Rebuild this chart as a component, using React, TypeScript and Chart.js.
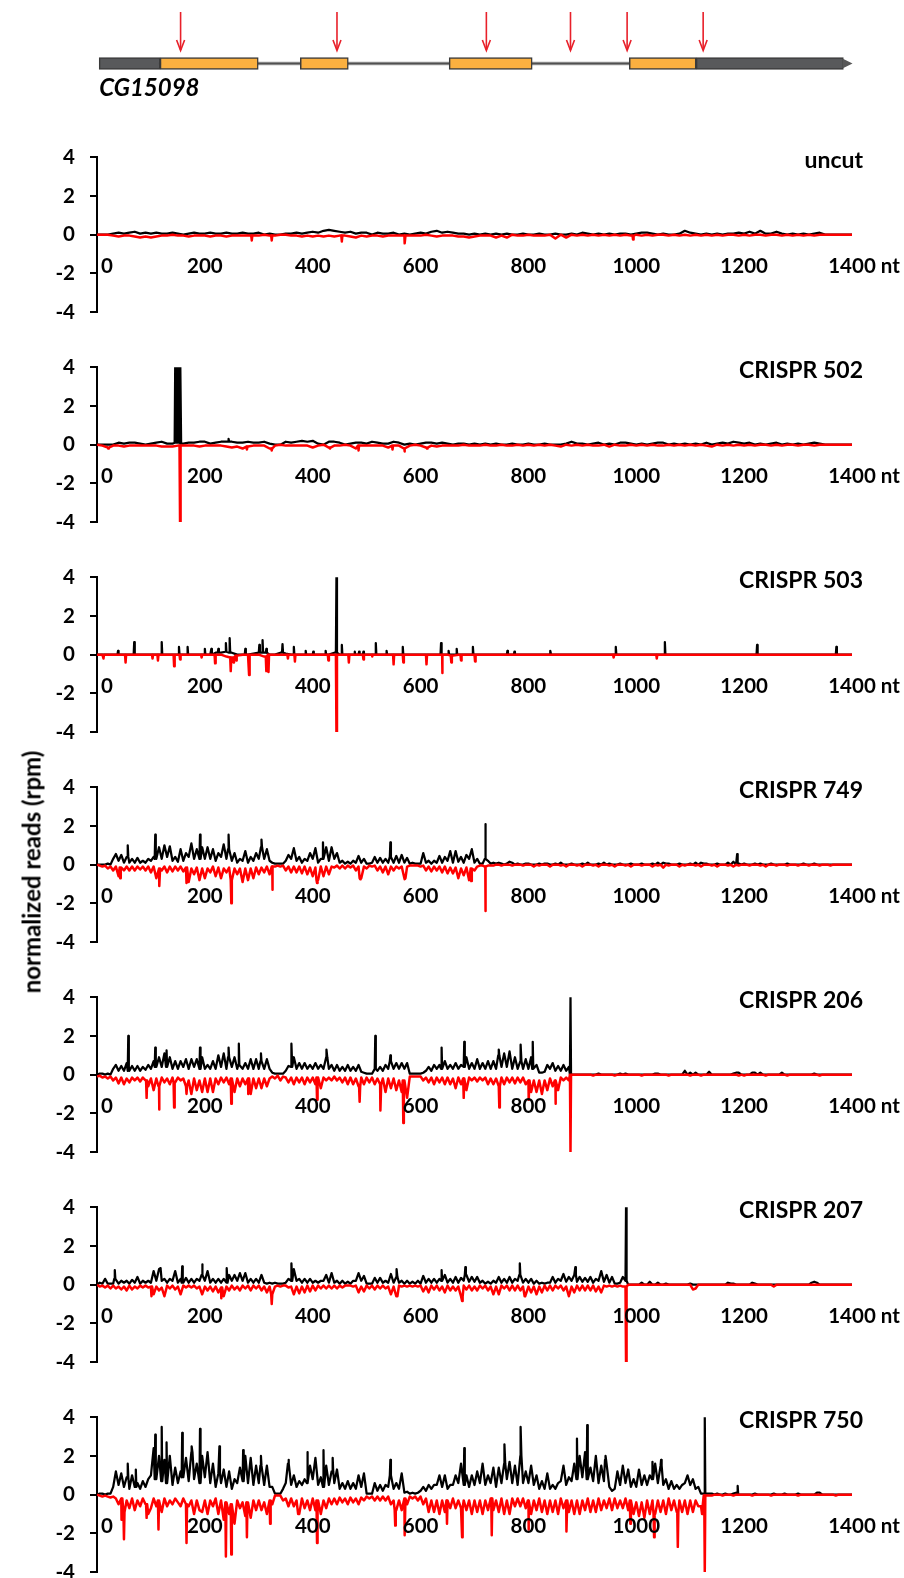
import React, { useEffect, useRef } from "react";
import { Chart, registerables } from "chart.js";

Chart.register(...registerables);

const FONT = "Lato, 'Open Sans', 'Liberation Sans', sans-serif";
const TICK_PX = 20.5;
const TITLE_PX = 23;

const X_TICKS = [0, 200, 400, 600, 800, 1000, 1200, 1400];
const X_UNIT = "nt";
const Y_MIN = -4;
const Y_MAX = 4;
const Y_STEP = 2;

// gene model CG15098 (nt)
const GENE_NAME = "CG15098";
const GENE_UTR = [
  [4, 117],
  [1111, 1384],
];
const GENE_CDS = [
  [117, 299],
  [377, 466],
  [653, 807],
  [987, 1111],
];
const GENE_SPAN = [4, 1401];
const CUT_SITES = [155, 445, 722, 878, 983, 1124];

const TITLES = ["uncut", "CRISPR 502", "CRISPR 503", "CRISPR 749", "CRISPR 206", "CRISPR 207", "CRISPR 750"];

// sampling steps (nt) of the profile arrays
const STEP_SPARSE = 10;
const STEP_DENSE = 5;

// ---------- uncut (step 10) ----------
const UNCUT_PLUS = [
  0, 0, 0, 0.05, 0.1, 0.05, 0.1, 0.15, 0.05, 0.1,
  0.05, 0.1, 0.05, 0.05, 0.1, 0.05, 0, 0.05, 0.1, 0.05,
  0.05, 0.1, 0.05, 0.05, 0.1, 0.05, 0.05, 0.1, 0.05, 0.05,
  0.1, 0, 0.05, 0, 0, 0.05, 0.05, 0.1, 0.05, 0.1,
  0.15, 0.1, 0.2, 0.25, 0.2, 0.15, 0.1, 0.15, 0.05, 0.1,
  0.1, 0, 0.1, 0.05, 0.05, 0.1, 0, 0.05, 0, 0.05,
  0.1, 0.05, 0.15, 0.2, 0.1, 0.15, 0.1, 0.05, 0.05, 0,
  0.05, 0, 0.05, 0, 0.05, 0, 0.05, 0, 0, 0.05,
  0, 0, 0.05, 0, 0, 0.05, 0, 0, 0.05, 0,
  0.1, 0.05, 0, 0.05, 0, 0.05, 0, 0.05, 0.05, 0,
  0.05, 0.1, 0.1, 0.05, 0, 0.05, 0, 0, 0.05, 0.2,
  0.1, 0.05, 0, 0.05, 0, 0.05, 0, 0.05, 0.05, 0.1,
  0.05, 0.15, 0.05, 0.2, 0.05, 0.05, 0.15, 0.05, 0, 0.05,
  0, 0.05, 0, 0.05, 0.1, 0, 0, 0, 0, 0,
  0,
];
const UNCUT_PLUS_SPIKES: number[][] = [];
const UNCUT_MINUS = [
  0, 0, 0, -0.05, -0.1, -0.05, -0.05, -0.1, -0.15, -0.1,
  -0.15, -0.1, -0.05, -0.05, 0, -0.05, -0.05, -0.1, -0.05, -0.05,
  -0.05, -0.1, -0.05, -0.05, -0.1, -0.05, -0.05, -0.05, -0.05, -0.05,
  -0.05, 0, -0.05, -0.05, 0, 0, -0.05, -0.05, -0.1, -0.05,
  -0.1, -0.05, -0.1, -0.05, -0.1, -0.05, -0.05, -0.1, -0.15, -0.05,
  -0.1, -0.05, -0.05, -0.1, -0.05, -0.05, -0.05, -0.05, -0.05, -0.05,
  -0.05, 0, -0.05, -0.1, -0.05, -0.05, -0.05, -0.1, -0.1, -0.15,
  -0.1, -0.05, -0.05, -0.05, -0.15, -0.05, -0.15, 0, -0.05, -0.05,
  0, -0.05, -0.05, -0.05, 0, -0.2, 0, -0.15, 0, -0.05,
  0, -0.05, 0, -0.05, 0, -0.05, 0, -0.05, 0, -0.05,
  0, -0.05, 0, -0.05, 0, 0, -0.05, 0, -0.05, 0,
  -0.05, 0, -0.05, 0, -0.05, 0, -0.05, 0, 0, -0.05,
  0, -0.05, 0, 0, -0.05, 0, 0, -0.05, 0, -0.05,
  0, -0.05, 0, -0.05, 0, 0, 0, 0, 0, 0,
  0,
];
const UNCUT_MINUS_SPIKES = [[287, -0.3], [324, -0.3], [454, -0.35], [571, -0.45], [994, -0.25]];

// ---------- CRISPR 502 (step 10) ----------
const C502_PLUS = [
  0, 0, 0, 0, 0.1, 0.05, 0.1, 0.1, 0.05, 0,
  0.05, 0.1, 0.15, 0.05, 0.05, 0.1, 0.05, 0.1, 0.1, 0.15,
  0.15, 0.05, 0.1, 0.15, 0.15, 0.15, 0.1, 0.1, 0.15, 0.1,
  0.1, 0.15, 0.05, 0, 0, 0.15, 0.1, 0.15, 0.2, 0.15,
  0.2, 0.05, 0, 0.15, 0.15, 0.1, 0, 0.05, 0.1, 0.1,
  0.05, 0.15, 0.1, 0.05, 0.05, 0.15, 0.1, 0, 0.05, 0,
  0.05, 0.1, 0.1, 0.05, 0.1, 0.05, 0, 0.05, 0.05, 0,
  0.05, 0, 0.05, 0, 0.05, 0, 0, 0.05, 0, 0,
  0.05, 0, 0, 0.05, 0, 0, 0, 0.05, 0.15, 0.05,
  0.05, 0, 0.05, 0.1, 0, 0.05, 0, 0.1, 0.1, 0.05,
  0, 0.05, 0, 0.05, 0.1, 0.1, 0, 0.05, 0, 0.05,
  0, 0.05, 0, 0.1, 0, 0.05, 0.1, 0.05, 0.15, 0.1,
  0.05, 0.1, 0, 0.05, 0, 0.05, 0.1, 0, 0.05, 0,
  0.05, 0, 0.05, 0.1, 0.05, 0, 0, 0, 0, 0,
  0,
];
const C502_PLUS_SPIKES = [[145, 4], [147, 4], [149, 4], [151, 4], [153, 4], [155, 4], [244, 0.3]];
const C502_MINUS = [
  0, -0.05, -0.15, -0.05, -0.05, -0.1, -0.05, -0.05, -0.05, -0.05,
  -0.05, -0.05, -0.1, -0.1, -0.1, -0.05, -0.05, -0.05, -0.05, -0.1,
  -0.05, -0.05, -0.05, -0.05, -0.1, -0.15, -0.1, -0.2, -0.1, -0.05,
  -0.05, -0.05, -0.2, -0.05, 0, -0.05, -0.05, -0.05, -0.05, -0.05,
  -0.15, -0.05, 0, -0.15, -0.05, -0.05, 0, -0.05, -0.2, -0.05,
  -0.05, -0.05, -0.05, -0.05, -0.15, -0.05, -0.05, -0.2, -0.05, 0,
  -0.05, -0.15, -0.05, -0.1, -0.05, -0.05, -0.05, -0.05, 0, -0.05,
  -0.05, -0.05, 0, -0.05, -0.05, 0, -0.05, -0.05, 0, -0.05,
  0, -0.05, 0, -0.05, 0, -0.05, -0.1, 0, -0.05, 0,
  -0.05, 0, -0.05, -0.05, 0, -0.1, 0, -0.05, -0.05, 0,
  -0.05, 0, -0.05, 0, -0.05, -0.05, 0, -0.05, 0, -0.05,
  0, -0.05, 0, -0.05, -0.1, 0, -0.05, 0, -0.05, 0,
  -0.05, 0, -0.05, 0, 0, -0.05, 0, -0.05, 0, 0,
  -0.05, 0, 0, -0.05, 0, 0, 0, 0, 0, 0,
  0,
];
const C502_MINUS_SPIKES = [[21, -0.2], [154, -4], [278, -0.25], [324, -0.3], [432, -0.2], [485, -0.3], [548, -0.25], [570, -0.35], [612, -0.2]];

// ---------- CRISPR 503 (step 10) ----------
const C503_PLUS = [
  0, 0, 0, 0, 0, 0, 0, 0, 0, 0,
  0, 0, 0, 0, 0, 0, 0, 0, 0, 0,
  0, 0, 0.1, 0.1, 0.15, 0.1, 0, 0, 0, 0.05,
  0.1, 0.1, 0, 0, 0.1, 0.05, 0, 0, 0, 0,
  0, 0, 0, 0, 0.1, 0, 0, 0, 0, 0,
  0, 0, 0, 0, 0, 0, 0, 0, 0, 0,
  0, 0, 0, 0, 0, 0, 0, 0, 0, 0,
  0, 0, 0, 0, 0, 0, 0, 0, 0, 0,
  0, 0, 0, 0, 0, 0, 0, 0, 0, 0,
  0, 0, 0, 0, 0, 0, 0, 0, 0, 0,
  0, 0, 0, 0, 0, 0, 0, 0, 0, 0,
  0, 0, 0, 0, 0, 0, 0, 0, 0, 0,
  0, 0, 0, 0, 0, 0, 0, 0, 0, 0,
  0, 0, 0, 0, 0, 0, 0, 0, 0, 0,
  0,
];
const C503_PLUS_SPIKES = [
  [39, 0.2], [69, 0.65], [120, 0.65], [152, 0.4], [168, 0.4], [200, 0.3], [212, 0.3], [225, 0.3],
  [239, 0.6], [246, 0.85], [275, 0.3], [301, 0.5], [307, 0.75], [314, 0.3], [344, 0.55], [365, 0.4],
  [387, 0.2], [401, 0.15], [424, 0.2], [444, 4], [454, 0.5], [478, 0.15], [486, 0.15], [494, 0.15],
  [517, 0.6], [537, 0.2], [567, 0.4], [638, 0.6], [652, 0.2], [667, 0.3], [697, 0.4], [761, 0.2],
  [774, 0.15], [841, 0.2], [962, 0.4], [1053, 0.65], [1224, 0.5], [1371, 0.4],
];
const C503_MINUS = [
  0, 0, 0, 0, 0, 0, 0, 0, 0, 0,
  0, 0, 0, 0, 0, 0, 0, 0, 0, 0,
  0, 0, 0, 0, -0.1, -0.15, -0.05, 0, 0, 0,
  0, -0.1, 0, 0, 0, 0, 0, 0, 0, 0,
  0, 0, 0, 0, 0, 0, 0, 0, 0, 0,
  0, 0, 0, 0, 0, 0, 0, 0, 0, 0,
  0, 0, 0, 0, 0, 0, -0.05, 0, 0, 0,
  0, 0, 0, 0, 0, 0, 0, 0, 0, 0,
  0, 0, 0, 0, 0, 0, 0, 0, 0, 0,
  0, 0, 0, 0, 0, 0, 0, 0, 0, 0,
  0, 0, 0, 0, 0, 0, 0, 0, 0, 0,
  0, 0, 0, 0, 0, 0, 0, 0, 0, 0,
  0, 0, 0, 0, 0, 0, 0, 0, 0, 0,
  0, 0, 0, 0, 0, 0, 0, 0, 0, 0,
  0,
];
const C503_MINUS_SPIKES = [
  [12, -0.2], [53, -0.4], [103, -0.2], [113, -0.3], [143, -0.6], [154, -0.25], [194, -0.15], [219, -0.45],
  [248, -0.85], [253, -0.4], [258, -0.3], [282, -1.05], [314, -0.85], [318, -0.9], [354, -0.2], [367, -0.35],
  [429, -0.3], [444, -4], [467, -0.4], [494, -0.25], [510, -0.1], [550, -0.5], [568, -0.4], [611, -0.5],
  [640, -0.95], [657, -0.4], [675, -0.3], [701, -0.35], [958, -0.15], [1038, -0.2],
];

// ---------- CRISPR 749 (step 5) ----------
const C749_PLUS = [
  0, 0, 0, 0, 0.05, 0, 0.3, 0.55, 0.2, 0.5, 0.1, 0.4, 0.1, 0.3, 0.1, 0.35, 0.1, 0.2, 0.1, 0.3,
  0.2, 0.4, 0.3, 0.9, 0.3, 1.0, 0.4, 0.95, 0.2, 0.4, 0.15, 0.8, 0.2, 0.6, 0.4, 1.1, 0.3, 0.8, 0.3, 0.9,
  0.3, 0.9, 0.3, 0.8, 0.2, 0.6, 0.4, 1.05, 0.3, 0.8, 0.2, 0.6, 0.1, 0.3, 0.2, 0.7, 0.1, 0.4, 0.2, 0.6,
  0.3, 0.9, 0.3, 0.8, 0.2, 0.1, 0.05, 0.05, 0.05, 0.05, 0.2, 0.5, 0.3, 0.85, 0.2, 0.4, 0.1, 0.3, 0.2, 0.6,
  0.3, 0.85, 0.1, 0.3, 0.3, 0.9, 0.2, 0.9, 0.3, 0.6, 0.1, 0.2, 0.05, 0.15, 0.05, 0.2, 0.1, 0.45, 0.1, 0.3,
  0.05, 0.05, 0.1, 0.4, 0.1, 0.35, 0.1, 0.3, 0.1, 0.4, 0.1, 0.45, 0.1, 0.5, 0.1, 0.35, 0.05, 0.1, 0.05, 0.05,
  0.05, 0.6, 0.1, 0.2, 0.05, 0.2, 0.1, 0.45, 0.1, 0.4, 0.2, 0.7, 0.1, 0.7, 0.15, 0.4, 0.1, 0.5, 0.3, 0.8,
  0.1, 0.3, 0.05, 0.05, 0.3, 0.2, 0.05, 0.1, 0.05, 0.1, 0.05, 0, 0.05, 0.15, 0.1, 0, 0.05, 0, 0, 0.05,
  0.05, 0, 0, 0, 0.05, 0, 0.05, 0.05, 0, 0, 0.05, 0, 0.1, 0, 0, 0, 0.05, 0, 0, 0,
  0.05, 0, 0.1, 0, 0, 0, 0.05, 0, 0.1, 0, 0.05, 0, 0, 0, 0.05, 0, 0, 0, 0.05, 0,
  0, 0, 0.05, 0, 0, 0, 0.05, 0, 0.1, 0, 0.1, 0.05, 0.05, 0, 0, 0, 0.05, 0, 0, 0,
  0.05, 0, 0.1, 0, 0.1, 0.05, 0.05, 0, 0, 0, 0.05, 0, 0, 0, 0.1, 0, 0.15, 0, 0.05, 0,
  0.05, 0, 0, 0, 0.05, 0, 0.05, 0, 0, 0, 0.05, 0, 0, 0, 0, 0, 0.05, 0, 0, 0,
  0, 0, 0.05, 0, 0, 0, 0.05, 0, 0, 0, 0, 0, 0, 0, 0, 0, 0, 0, 0, 0,
  0,
];
const C749_PLUS_SPIKES = [
  [57, 1.0], [108, 1.55], [191, 1.55], [244, 1.55], [305, 1.3], [419, 1.15], [544, 1.15], [720, 2.1], [1187, 0.55],
];
const C749_MINUS = [
  0, -0.05, -0.1, -0.05, -0.2, -0.1, -0.3, -0.1, -0.6, -0.15, -0.3, -0.1, -0.3, -0.1, -0.3, -0.1, -0.25, -0.1, -0.3, -0.1,
  -0.4, -0.1, -0.7, -0.2, -0.3, -0.1, -0.4, -0.1, -0.35, -0.1, -0.3, -0.1, -0.35, -0.15, -0.9, -0.2, -0.5, -0.15, -0.8, -0.2,
  -0.7, -0.2, -0.4, -0.1, -0.6, -0.15, -0.7, -0.2, -0.4, -0.15, -0.8, -0.2, -0.5, -0.2, -0.9, -0.2, -0.8, -0.2, -0.7, -0.15,
  -0.5, -0.15, -0.4, -0.1, -0.5, -0.1, -0.1, -0.05, -0.1, -0.05, -0.3, -0.1, -0.4, -0.1, -0.4, -0.1, -0.45, -0.1, -0.5, -0.15,
  -0.6, -0.15, -0.8, -0.1, -0.6, -0.1, -0.5, -0.1, -0.15, -0.05, -0.2, -0.05, -0.2, -0.05, -0.15, -0.05, -0.3, -0.1, -0.7, -0.1,
  -0.2, -0.05, -0.1, -0.05, -0.3, -0.1, -0.4, -0.1, -0.5, -0.1, -0.3, -0.1, -0.2, -0.1, -0.7, -0.1, -0.05, -0.05, -0.05, -0.05,
  -0.1, -0.05, -0.3, -0.1, -0.35, -0.1, -0.3, -0.1, -0.4, -0.1, -0.45, -0.15, -0.45, -0.15, -0.7, -0.2, -0.55, -0.15, -0.8, -0.2,
  -0.3, -0.1, -0.05, -0.05, -0.1, -0.05, -0.05, -0.05, 0, 0, -0.05, 0, 0, 0, -0.05, 0, 0, 0, -0.05, 0,
  0, 0, -0.1, 0, -0.05, 0, 0, 0, -0.1, 0, 0, 0, -0.05, 0, -0.1, 0, 0, 0, -0.05, 0,
  -0.1, 0, 0, 0, -0.05, 0, -0.1, 0, 0, 0, -0.05, 0, -0.1, 0, 0, 0, -0.05, 0, -0.1, 0,
  0, 0, -0.05, 0, 0, 0, -0.1, 0, -0.05, 0, -0.15, 0, -0.05, 0, 0, 0, -0.1, 0, -0.05, 0,
  0, 0, -0.05, 0, -0.1, 0, 0, 0, -0.05, 0, -0.1, 0, 0, 0, -0.05, 0, -0.1, 0, -0.05, 0,
  0, 0, -0.05, 0, 0, 0, -0.05, 0, -0.1, 0, 0, 0, -0.05, 0, 0, 0, -0.05, 0, 0, 0,
  -0.05, 0, 0, 0, -0.05, 0, 0, 0, -0.05, 0, 0, 0, -0.05, 0, 0, 0, 0, 0, 0, 0,
  0,
];
const C749_MINUS_SPIKES = [
  [43, -0.7], [116, -1.1], [166, -0.95], [249, -2.0], [325, -1.3], [408, -0.95], [488, -0.75],
  [571, -0.75], [694, -0.85], [720, -2.4],
];

// ---------- CRISPR 206 (step 5) ----------
const C206_PLUS = [
  0, 0.05, 0.05, 0, 0.05, 0, 0.3, 0.5, 0.2, 0.45, 0.2, 0.6, 0.2, 0.45, 0.2, 0.45, 0.2, 0.4, 0.25, 0.5,
  0.3, 0.7, 0.4, 0.9, 0.4, 1.1, 0.4, 0.9, 0.3, 0.7, 0.3, 0.7, 0.4, 0.8, 0.3, 0.8, 0.4, 0.8, 0.3, 0.9,
  0.3, 0.5, 0.3, 0.7, 0.3, 1.0, 0.4, 1.1, 0.3, 0.9, 0.4, 0.9, 0.3, 0.5, 0.3, 0.6, 0.3, 0.8, 0.3, 0.8,
  0.3, 0.7, 0.3, 0.8, 0.3, 0.1, 0.05, 0.05, 0.05, 0.05, 0.2, 0.45, 0.4, 0.9, 0.3, 0.6, 0.3, 0.6, 0.3, 0.5,
  0.3, 0.6, 0.3, 0.5, 0.3, 0.9, 0.3, 0.5, 0.2, 0.5, 0.2, 0.4, 0.2, 0.5, 0.2, 0.4, 0.2, 0.5, 0.15, 0.1,
  0.05, 0.05, 0.05, 0.3, 0.2, 0.4, 0.2, 0.5, 0.3, 0.7, 0.3, 0.6, 0.3, 0.6, 0.3, 0.6, 0.05, 0.05, 0.05, 0.05,
  0.05, 0.1, 0.2, 0.4, 0.2, 0.5, 0.3, 0.5, 0.3, 0.7, 0.3, 0.5, 0.3, 0.6, 0.3, 0.5, 0.4, 0.9, 0.3, 0.6,
  0.3, 0.8, 0.3, 0.6, 0.3, 0.7, 0.3, 0.7, 0.3, 1.0, 0.4, 1.1, 0.4, 1.2, 0.3, 0.9, 0.3, 0.7, 0.3, 0.8,
  0.3, 0.9, 0.3, 0.5, 0.1, 0.1, 0.15, 0.5, 0.3, 0.6, 0.2, 0.45, 0.2, 0.5, 0.2, 0.4, 0, 0, 0, 0,
  0, 0, 0, 0, 0, 0, 0.05, 0, 0, 0, 0, 0, 0, 0, 0.05, 0, 0.05, 0, 0, 0,
  0, 0, 0, 0, 0, 0, 0, 0.05, 0.05, 0, 0, 0, 0, 0, 0, 0, 0, 0, 0.2, 0,
  0.1, 0, 0.1, 0, 0, 0, 0, 0.15, 0, 0, 0, 0, 0, 0, 0, 0, 0.05, 0.1, 0.1, 0,
  0, 0, 0, 0.1, 0.1, 0, 0.1, 0, 0, 0, 0, 0, 0, 0, 0.1, 0, 0, 0, 0, 0,
  0, 0, 0, 0, 0, 0, 0.05, 0, 0, 0, 0, 0, 0, 0, 0, 0, 0, 0, 0, 0,
  0,
];
const C206_PLUS_SPIKES = [
  [58, 2.0], [108, 1.4], [129, 1.25], [191, 1.4], [244, 1.4], [263, 1.6], [304, 1.1], [361, 1.6],
  [426, 1.3], [516, 2.0], [544, 1.0], [639, 1.4], [681, 1.7], [745, 1.3], [786, 1.55], [808, 1.7], [878, 4],
];
const C206_MINUS = [
  -0.1, -0.05, -0.15, -0.1, -0.2, -0.1, -0.3, -0.15, -0.45, -0.15, -0.5, -0.2, -0.4, -0.15, -0.3, -0.15, -0.35, -0.15, -0.3, -0.6,
  -0.2, -0.8, -0.2, -0.6, -0.15, -0.4, -0.2, -0.5, -0.15, -0.4, -0.15, -0.3, -0.2, -0.6, -0.3, -1.0, -0.2, -0.8, -0.3, -0.9,
  -0.2, -0.9, -0.2, -0.9, -0.2, -0.5, -0.15, -0.4, -0.15, -0.5, -0.2, -0.9, -0.2, -0.6, -0.2, -0.5, -0.2, -1.0, -0.2, -0.7,
  -0.2, -0.7, -0.2, -0.6, -0.2, -0.1, -0.2, -0.05, -0.3, -0.1, -0.15, -0.4, -0.15, -0.5, -0.15, -0.4, -0.15, -0.5, -0.15, -0.4,
  -0.15, -0.5, -0.15, -0.7, -0.15, -0.3, -0.15, -0.3, -0.1, -0.3, -0.15, -0.4, -0.15, -0.5, -0.15, -0.5, -0.2, -0.6, -0.15, -0.5,
  -0.15, -0.4, -0.15, -0.5, -0.2, -0.5, -0.2, -0.9, -0.2, -0.7, -0.2, -0.8, -0.3, -0.9, -0.3, -1.2, -0.1, -0.1, -0.1, -0.1,
  -0.1, -0.3, -0.15, -0.4, -0.15, -0.5, -0.15, -0.4, -0.15, -0.5, -0.15, -0.5, -0.2, -0.7, -0.15, -0.5, -0.2, -0.8, -0.15, -0.3,
  -0.15, -0.35, -0.15, -0.3, -0.15, -0.5, -0.2, -0.5, -0.2, -0.6, -0.15, -0.5, -0.15, -0.4, -0.15, -0.45, -0.15, -0.4, -0.15, -0.5,
  -0.3, -0.9, -0.3, -0.9, -0.3, -1.0, -0.3, -0.8, -0.2, -0.6, -0.3, -0.8, -0.15, -0.3, -0.15, -0.3, 0, 0, 0, 0,
  0, 0, 0, 0, -0.05, 0, 0, 0, 0, 0, 0, 0, -0.05, 0, 0, 0, 0, 0, 0, 0,
  0, 0, -0.05, 0, 0, 0, 0, 0, 0, 0, 0, 0, -0.05, 0, 0, 0, 0, 0, 0, 0,
  -0.05, 0, 0, 0, -0.05, 0, 0, 0, 0, 0, 0, 0, 0, 0, 0, 0, 0, 0, -0.05, 0,
  -0.05, 0, 0, 0, 0, 0, 0, 0, -0.05, 0, 0, 0, 0, 0, 0, 0, -0.05, 0, 0, 0,
  0, 0, 0, 0, 0, 0, 0, 0, -0.05, 0, 0, 0, 0, 0, 0, 0, 0, 0, 0, 0,
  0,
];
const C206_MINUS_SPIKES = [
  [92, -1.2], [115, -1.8], [143, -1.7], [166, -1.0], [249, -1.5], [281, -1.0], [408, -1.3], [487, -1.4],
  [526, -1.85], [568, -2.5], [680, -1.2], [746, -1.7], [801, -1.3], [850, -1.5], [878, -4],
];

// ---------- CRISPR 207 (step 5) ----------
const C207_PLUS = [
  0, 0.1, 0.05, 0.3, 0.05, 0.05, 0.05, 0.3, 0.05, 0.2, 0.1, 0.2, 0.05, 0.25, 0.1, 0.4, 0.05, 0.2, 0.1, 0.2,
  0.1, 0.7, 0.2, 0.8, 0.2, 0.3, 0.1, 0.3, 0.2, 0.7, 0.1, 0.3, 0.1, 0.35, 0.1, 0.3, 0.1, 0.3, 0.2, 0.5,
  0.2, 0.7, 0.1, 0.3, 0.1, 0.3, 0.1, 0.3, 0.1, 0.5, 0.2, 0.5, 0.2, 0.6, 0.2, 0.6, 0.1, 0.3, 0.1, 0.3,
  0.1, 0.5, 0.1, 0.05, 0.1, 0.05, 0.1, 0.05, 0.05, 0.05, 0.1, 0.3, 0.2, 0.8, 0.2, 0.3, 0.1, 0.3, 0.1, 0.3,
  0.1, 0.2, 0.1, 0.2, 0.2, 0.5, 0.1, 0.6, 0.1, 0.2, 0.05, 0.2, 0.05, 0.15, 0.05, 0.2, 0.2, 0.6, 0.2, 0.45,
  0.05, 0.05, 0.05, 0.35, 0.1, 0.35, 0.1, 0.2, 0.1, 0.55, 0.1, 0.4, 0.1, 0.2, 0.05, 0.2, 0.05, 0.15, 0.05, 0.2,
  0.05, 0.45, 0.1, 0.3, 0.1, 0.3, 0.1, 0.3, 0.2, 0.5, 0.1, 0.3, 0.1, 0.4, 0.1, 0.35, 0.2, 0.5, 0.15, 0.4,
  0.15, 0.4, 0.1, 0.2, 0.05, 0.15, 0.05, 0.2, 0.1, 0.4, 0.1, 0.3, 0.1, 0.4, 0.1, 0.3, 0.2, 0.5, 0.1, 0.3,
  0.1, 0.3, 0.05, 0.2, 0.05, 0.1, 0.05, 0.1, 0.1, 0.4, 0.1, 0.3, 0.2, 0.55, 0.15, 0.4, 0.2, 0.5, 0.15, 0.4,
  0.15, 0.35, 0.15, 0.4, 0.1, 0.3, 0.2, 0.7, 0.15, 0.5, 0.1, 0.4, 0.05, 0.05, 0.1, 0.4, 0.2, 0, 0, 0,
  0, 0, 0.1, 0, 0, 0.15, 0, 0, 0.1, 0, 0, 0.05, 0, 0, 0, 0, 0, 0, 0, 0,
  0.05, 0, 0, 0, 0, 0, 0, 0, 0, 0, 0, 0, 0, 0, 0.1, 0.05, 0.05, 0, 0, 0,
  0, 0, 0, 0.1, 0.05, 0, 0, 0, 0, 0, 0, 0, 0, 0, 0, 0, 0, 0, 0, 0,
  0, 0, 0, 0, 0, 0.1, 0.15, 0.1, 0, 0, 0, 0, 0, 0, 0, 0, 0, 0, 0, 0,
  0,
];
const C207_PLUS_SPIKES = [
  [33, 0.75], [117, 0.85], [158, 0.95], [195, 1.05], [241, 0.85], [361, 1.1], [556, 0.8], [639, 0.75],
  [683, 0.9], [784, 1.1], [887, 0.9], [981, 4],
];
const C207_MINUS = [
  0, -0.1, -0.05, -0.15, -0.05, -0.2, -0.05, -0.2, -0.1, -0.25, -0.1, -0.3, -0.05, -0.25, -0.1, -0.2, -0.05, -0.15, -0.05, -0.15,
  -0.1, -0.5, -0.1, -0.3, -0.15, -0.6, -0.05, -0.2, -0.05, -0.25, -0.1, -0.5, -0.05, -0.15, -0.05, -0.15, -0.05, -0.2, -0.1, -0.5,
  -0.1, -0.3, -0.1, -0.35, -0.1, -0.4, -0.15, -0.6, -0.1, -0.3, -0.05, -0.25, -0.1, -0.3, -0.05, -0.2, -0.05, -0.3, -0.05, -0.2,
  -0.05, -0.3, -0.1, -0.4, -0.1, -0.5, -0.1, -0.05, -0.1, -0.05, -0.05, -0.15, -0.1, -0.5, -0.1, -0.45, -0.1, -0.4, -0.05, -0.35,
  -0.05, -0.3, -0.05, -0.2, -0.05, -0.2, -0.05, -0.2, -0.05, -0.2, -0.05, -0.15, -0.05, -0.05, -0.05, -0.1, -0.05, -0.4, -0.1, -0.35,
  -0.05, -0.2, -0.05, -0.25, -0.05, -0.2, -0.05, -0.2, -0.1, -0.5, -0.1, -0.6, -0.05, -0.1, -0.05, -0.1, -0.05, -0.1, -0.05, -0.1,
  -0.05, -0.35, -0.1, -0.4, -0.05, -0.25, -0.05, -0.3, -0.1, -0.4, -0.05, -0.3, -0.1, -0.3, -0.1, -0.6, -0.05, -0.25, -0.05, -0.3,
  -0.1, -0.3, -0.05, -0.2, -0.05, -0.3, -0.1, -0.5, -0.1, -0.5, -0.05, -0.2, -0.05, -0.3, -0.05, -0.3, -0.05, -0.3, -0.1, -0.6,
  -0.1, -0.4, -0.1, -0.5, -0.1, -0.4, -0.05, -0.3, -0.05, -0.3, -0.05, -0.2, -0.05, -0.3, -0.1, -0.6, -0.1, -0.4, -0.05, -0.3,
  -0.05, -0.3, -0.05, -0.3, -0.05, -0.35, -0.1, -0.4, -0.05, -0.1, -0.05, -0.1, -0.05, -0.1, -0.05, -0.1, -0.1, 0, 0, 0,
  0, 0, 0, 0, 0, 0, 0, 0, 0, 0, 0, 0, 0, 0, 0, 0, 0, 0, 0, 0,
  0, -0.25, -0.2, 0, 0, 0, 0, 0, 0, 0, 0, 0, 0, 0, 0, 0, 0, 0, 0, 0,
  0, 0, 0, 0, 0, 0, 0, 0, 0, 0, 0, -0.1, 0, 0, 0, 0, 0, 0, 0, 0,
  0, 0, 0, 0, 0, 0, 0, 0, 0, 0, 0, 0, 0, 0, 0, 0, 0, 0, 0, 0,
  0,
];
const C207_MINUS_SPIKES = [
  [101, -0.6], [231, -0.7], [324, -1.0], [556, -0.6], [677, -0.85], [794, -0.6], [981, -4],
];

// ---------- CRISPR 750 (step 5) ----------
const C750_PLUS = [
  0, 0.05, 0.05, 0, 0.05, 0.05, 0.4, 1.2, 0.5, 1.1, 0.4, 0.9, 0.3, 1.0, 0.4, 0.6, 0.3, 0.7, 0.4, 0.8,
  1.0, 2.4, 0.8, 2.0, 0.7, 1.8, 0.6, 2.0, 0.5, 1.4, 0.6, 1.2, 0.9, 1.9, 0.7, 2.2, 0.8, 1.6, 0.6, 2.0,
  0.9, 2.2, 0.6, 1.6, 0.4, 1.1, 0.6, 1.3, 0.4, 1.2, 0.3, 0.8, 0.6, 1.4, 0.7, 2.0, 0.6, 1.9, 0.5, 1.5,
  0.6, 1.5, 0.5, 1.5, 0.4, 0.4, 0.05, 0.05, 0.05, 0.3, 0.6, 1.6, 0.5, 1.0, 0.4, 0.7, 0.5, 0.8, 0.6, 1.5,
  0.8, 1.9, 0.5, 0.9, 0.4, 1.5, 0.5, 1.2, 0.6, 1.3, 0.3, 0.6, 0.3, 0.7, 0.3, 0.6, 0.3, 1.0, 0.4, 1.1,
  0.05, 0.05, 0.05, 0.6, 0.2, 0.5, 0.2, 0.5, 0.4, 1.0, 0.3, 0.6, 0.3, 1.1, 0.1, 0.15, 0.05, 0.1, 0.05, 0.1,
  0.2, 0.4, 0.2, 0.5, 0.3, 0.5, 0.5, 1.0, 0.4, 1.0, 0.3, 0.5, 0.5, 1.0, 0.6, 1.6, 0.5, 1.0, 0.4, 1.0,
  0.5, 1.2, 0.6, 1.6, 0.5, 1.0, 0.6, 1.4, 0.4, 1.4, 0.6, 1.6, 0.8, 1.7, 0.6, 1.5, 0.5, 2.0, 0.6, 1.2,
  0.6, 1.5, 0.5, 1.0, 0.3, 0.7, 0.3, 1.1, 0.3, 0.5, 0.3, 0.6, 0.7, 1.5, 0.5, 0.9, 0.7, 1.6, 0.8, 2.0,
  0.9, 2.2, 0.8, 1.4, 0.7, 2.0, 0.6, 1.5, 0.7, 1.8, 0.4, 0.2, 0.3, 1.2, 0.5, 1.5, 0.6, 1.3, 0.4, 0.8,
  0.4, 1.3, 0.5, 1.0, 0.5, 1.0, 0.8, 1.6, 0.6, 1.5, 0.5, 0.8, 0.3, 0.7, 0.3, 0.5, 0.3, 0.5, 0.6, 1.0,
  0.5, 0.8, 0.3, 0.4, 0.05, 0.05, 0.05, 0.05, 0.05, 0, 0.05, 0, 0, 0.05, 0, 0, 0.05, 0.1, 0, 0,
  0, 0, 0, 0, 0.05, 0, 0, 0, 0, 0, 0, 0.05, 0, 0, 0, 0.05, 0, 0, 0, 0,
  0.05, 0, 0, 0, 0, 0, 0, 0.1, 0.1, 0, 0, 0, 0, 0, 0, 0, 0, 0, 0, 0,
  0,
];
const C750_PLUS_SPIKES = [
  [57, 1.6], [72, 1.3], [108, 3.1], [120, 3.5], [129, 2.7], [158, 3.2], [176, 2.5], [191, 3.4],
  [227, 2.5], [271, 2.3], [304, 2.0], [355, 1.8], [390, 2.2], [420, 2.3], [437, 1.9], [544, 1.8],
  [681, 2.4], [756, 2.6], [786, 3.5], [890, 2.9], [909, 3.6], [943, 2.0], [1030, 1.7], [1046, 1.8], [1127, 4], [1188, 0.45],
];
const C750_MINUS = [
  0, -0.05, -0.1, -0.05, -0.1, -0.15, -0.1, -0.2, -0.5, -0.2, -0.9, -0.3, -0.7, -0.2, -0.8, -0.3, -0.6, -0.2, -0.5, -1.0,
  -0.7, -0.2, -0.6, -0.3, -0.9, -0.2, -0.6, -0.3, -0.5, -0.2, -0.4, -0.6, -0.2, -0.5, -0.6, -0.3, -1.0, -0.3, -0.8, -0.9,
  -0.3, -1.0, -0.3, -0.6, -0.2, -1.0, -0.3, -1.3, -0.4, -1.0, -0.5, -1.5, -0.3, -0.7, -0.4, -1.1, -0.4, -1.2, -0.3, -0.8,
  -0.3, -0.8, -0.4, -1.0, -0.3, -0.5, -0.05, -0.05, -0.05, -0.3, -0.2, -0.6, -0.2, -0.6, -0.3, -1.0, -0.2, -0.7, -0.3, -0.8,
  -0.2, -0.8, -0.3, -1.0, -0.3, -0.7, -0.2, -0.5, -0.2, -0.5, -0.15, -0.4, -0.2, -0.5, -0.15, -0.4, -0.2, -0.5, -0.15, -0.3,
  -0.1, -0.2, -0.1, -0.3, -0.1, -0.3, -0.1, -0.3, -0.1, -0.5, -0.3, -0.8, -0.3, -0.8, -0.2, -0.5, -0.1, -0.2, -0.1, -0.3,
  -0.1, -0.5, -0.2, -0.9, -0.3, -0.9, -0.3, -1.0, -0.3, -0.9, -0.3, -0.7, -0.2, -0.7, -0.3, -0.7, -0.3, -0.8, -0.3, -1.0,
  -0.3, -0.9, -0.3, -1.0, -0.3, -0.8, -0.2, -0.8, -0.3, -0.9, -0.2, -1.0, -0.3, -1.0, -0.2, -0.6, -0.2, -0.6, -0.2, -0.7,
  -0.3, -1.0, -0.3, -0.8, -0.2, -0.9, -0.3, -1.0, -0.3, -0.9, -0.3, -1.0, -0.2, -0.7, -0.3, -0.9, -0.3, -1.0, -0.3, -1.0,
  -0.3, -0.8, -0.2, -0.9, -0.3, -0.9, -0.2, -0.8, -0.3, -0.7, -0.2, -0.8, -0.2, -0.7, -0.3, -0.7, -0.2, -0.8, -0.3, -1.0,
  -0.4, -1.1, -0.4, -1.2, -0.3, -1.0, -0.3, -1.0, -0.3, -0.9, -0.3, -1.0, -0.2, -0.8, -0.3, -0.9, -0.3, -0.9, -0.3, -1.0,
  -0.3, -0.9, -0.3, -0.6, -0.6, -0.05, -0.05, -0.05, -0.05, 0, 0, 0, -0.05, 0, 0, 0, -0.05, 0, 0, 0,
  0, 0, 0, -0.05, 0, 0, 0, 0, 0, 0, -0.05, 0, 0, 0, 0, 0, 0, 0, 0, 0,
  -0.05, 0, 0, 0, 0, 0, 0, 0, 0, 0, 0, 0, 0, 0, -0.05, 0, 0, 0, 0, 0,
  0,
];
const C750_MINUS_SPIKES = [
  [46, -1.3], [50, -2.3], [92, -1.2], [114, -1.8], [166, -2.5], [239, -3.2], [249, -3.1], [278, -2.2],
  [321, -1.5], [374, -1.0], [408, -2.5], [553, -1.6], [571, -2.1], [649, -1.5], [677, -2.2], [732, -2.1],
  [800, -1.8], [871, -1.9], [989, -1.5], [1033, -2.2], [1077, -2.7], [1122, -1.0], [1127, -4],
];

const PANELS = [
  { title: TITLES[0], step: STEP_SPARSE, plus: UNCUT_PLUS, plusSpikes: UNCUT_PLUS_SPIKES, minus: UNCUT_MINUS, minusSpikes: UNCUT_MINUS_SPIKES },
  { title: TITLES[1], step: STEP_SPARSE, plus: C502_PLUS, plusSpikes: C502_PLUS_SPIKES, minus: C502_MINUS, minusSpikes: C502_MINUS_SPIKES },
  { title: TITLES[2], step: STEP_SPARSE, plus: C503_PLUS, plusSpikes: C503_PLUS_SPIKES, minus: C503_MINUS, minusSpikes: C503_MINUS_SPIKES },
  { title: TITLES[3], step: STEP_DENSE, plus: C749_PLUS, plusSpikes: C749_PLUS_SPIKES, minus: C749_MINUS, minusSpikes: C749_MINUS_SPIKES },
  { title: TITLES[4], step: STEP_DENSE, plus: C206_PLUS, plusSpikes: C206_PLUS_SPIKES, minus: C206_MINUS, minusSpikes: C206_MINUS_SPIKES },
  { title: TITLES[5], step: STEP_DENSE, plus: C207_PLUS, plusSpikes: C207_PLUS_SPIKES, minus: C207_MINUS, minusSpikes: C207_MINUS_SPIKES },
  { title: TITLES[6], step: STEP_DENSE, plus: C750_PLUS, plusSpikes: C750_PLUS_SPIKES, minus: C750_MINUS, minusSpikes: C750_MINUS_SPIKES },
];

// ---- layout ----
const PAGE_W = 904;
const PAGE_H = 1578;
const GENE_H = 130;
const PANEL_H = 210;
const PLOT_TOP = 20;
const PLOT_H = 162;
const AXIS_W = 97;
const RIGHT_PAD = 52;

function buildProfile(grid: number[], step: number, spikes: number[][]) {
  const pts = grid.map((v, i) => ({ x: i * step, y: v }));
  for (const [nt, v] of spikes) {
    const base = grid[Math.round(nt / step)] ?? 0;
    pts.push({ x: nt - 1, y: base }, { x: nt, y: v }, { x: nt + 1, y: base });
  }
  pts.sort((a, b) => a.x - b.x);
  return pts;
}

const panelDecor = {
  id: "panelDecor",
  afterDraw(chart: any, _args: any, opts: any) {
    const { ctx, chartArea, scales } = chart;
    const x = scales.x;
    const y = scales.y;
    ctx.save();
    ctx.fillStyle = "#000";
    ctx.font = `bold ${TICK_PX}px ${FONT}`;
    ctx.textBaseline = "alphabetic";
    const yb = y.getPixelForValue(0) + 38.5;
    X_TICKS.forEach((t) => {
      let cx = x.getPixelForValue(t);
      if (t === 0) cx += 10;
      ctx.textAlign = "center";
      ctx.fillText(String(t), cx, yb);
    });
    const last = X_TICKS[X_TICKS.length - 1];
    const w = ctx.measureText(String(last)).width;
    ctx.textAlign = "left";
    ctx.fillText(X_UNIT, x.getPixelForValue(last) + w / 2 + 5, yb);
    ctx.font = `bold ${TITLE_PX}px ${FONT}`;
    ctx.textAlign = "right";
    ctx.textBaseline = "middle";
    ctx.fillText(opts.title, chartArea.right + 11, chartArea.top + 3);
    ctx.restore();
  },
};

function Panel({ idx }: { idx: number }) {
  const ref = useRef<HTMLCanvasElement | null>(null);
  useEffect(() => {
    const p = PANELS[idx];
    const chart = new Chart(ref.current as HTMLCanvasElement, {
      type: "line",
      data: {
        datasets: [
          {
            data: buildProfile(p.minus, p.step, p.minusSpikes),
            borderColor: "#ff0000",
            borderWidth: 2.5,
            pointRadius: 0,
            tension: 0,
            borderJoinStyle: "round",
            order: 0,
          },
          {
            data: buildProfile(p.plus, p.step, p.plusSpikes),
            borderColor: "#000000",
            borderWidth: 2.25,
            pointRadius: 0,
            tension: 0,
            borderJoinStyle: "round",
            order: 1,
          },
        ],
      } as any,
      options: {
        responsive: false,
        animation: false,
        events: [],
        layout: { padding: { top: PLOT_TOP, bottom: PANEL_H - PLOT_TOP - PLOT_H, left: 0, right: RIGHT_PAD } },
        plugins: {
          legend: { display: false },
          tooltip: { enabled: false },
          panelDecor: { title: p.title },
        } as any,
        scales: {
          x: { type: "linear", min: 0, max: X_TICKS[X_TICKS.length - 1], display: false },
          y: {
            min: Y_MIN,
            max: Y_MAX,
            afterFit: (s: any) => {
              s.width = AXIS_W;
            },
            ticks: {
              stepSize: Y_STEP,
              color: "#000",
              padding: 15,
              font: { family: FONT, size: TICK_PX, weight: "bold" },
              callback: (v: any) => String(v),
            },
            grid: { drawOnChartArea: false, drawTicks: true, tickLength: 7, color: "#000", lineWidth: 2 },
            border: { display: true, color: "#000", width: 2 },
          },
        } as any,
      },
      plugins: [panelDecor],
    });
    return () => chart.destroy();
  }, [idx]);
  return (
    <canvas
      ref={ref}
      width={PAGE_W}
      height={PANEL_H}
      style={{ position: "absolute", left: 0, top: GENE_H + idx * PANEL_H, width: PAGE_W, height: PANEL_H }}
    />
  );
}

const geneDecor = {
  id: "geneDecor",
  beforeDatasetsDraw(chart: any) {
    const { ctx, chartArea, scales } = chart;
    const x = scales.x;
    const cy = (chartArea.top + chartArea.bottom) / 2;
    ctx.save();
    ctx.strokeStyle = "#9a9a9a";
    ctx.lineWidth = 3.5;
    ctx.beginPath();
    ctx.moveTo(x.getPixelForValue(GENE_SPAN[0]), cy);
    ctx.lineTo(x.getPixelForValue(GENE_UTR[1][1]), cy);
    ctx.stroke();
    ctx.strokeStyle = "#505050";
    ctx.lineWidth = 1.5;
    ctx.beginPath();
    ctx.moveTo(x.getPixelForValue(GENE_SPAN[0]), cy);
    ctx.lineTo(x.getPixelForValue(GENE_UTR[1][1]), cy);
    ctx.stroke();
    ctx.restore();
  },
  afterDatasetsDraw(chart: any) {
    const { ctx, chartArea, scales } = chart;
    const x = scales.x;
    const cy = (chartArea.top + chartArea.bottom) / 2;
    ctx.save();
    const x0 = x.getPixelForValue(GENE_UTR[1][1]);
    const x1 = x.getPixelForValue(GENE_SPAN[1]);
    ctx.fillStyle = "#585858";
    ctx.beginPath();
    ctx.moveTo(x0 - 1, cy - 5);
    ctx.lineTo(x1, cy);
    ctx.lineTo(x0 - 1, cy + 5);
    ctx.closePath();
    ctx.fill();
    ctx.strokeStyle = "#e8202a";
    ctx.lineWidth = 1.6;
    CUT_SITES.forEach((s) => {
      const px = x.getPixelForValue(s);
      ctx.beginPath();
      ctx.moveTo(px, 12);
      ctx.lineTo(px, 50);
      ctx.stroke();
      ctx.beginPath();
      ctx.moveTo(px - 4, 40);
      ctx.lineTo(px, 50.5);
      ctx.lineTo(px + 4, 40);
      ctx.stroke();
    });
    ctx.fillStyle = "#000";
    ctx.font = `italic bold 24px ${FONT}`;
    ctx.textAlign = "left";
    ctx.textBaseline = "alphabetic";
    ctx.fillText(GENE_NAME, x.getPixelForValue(GENE_SPAN[0]), 96);
    ctx.restore();
  },
};

function GeneModel() {
  const ref = useRef<HTMLCanvasElement | null>(null);
  useEffect(() => {
    const mk = (seg: number[], color: string) => ({
      data: [seg],
      backgroundColor: color,
      borderColor: "#3a3a3a",
      borderWidth: 1.5,
      borderSkipped: false,
      barThickness: 12,
      grouped: false,
    });
    const chart = new Chart(ref.current as HTMLCanvasElement, {
      type: "bar",
      data: {
        labels: [GENE_NAME],
        datasets: [...GENE_UTR.map((s) => mk(s, "#58595b")), ...GENE_CDS.map((s) => mk(s, "#fbb040"))],
      } as any,
      options: {
        indexAxis: "y",
        responsive: false,
        animation: false,
        events: [],
        layout: { padding: { top: 40, bottom: GENE_H - 87, left: AXIS_W, right: RIGHT_PAD } },
        plugins: { legend: { display: false }, tooltip: { enabled: false } },
        scales: {
          x: { type: "linear", min: 0, max: X_TICKS[X_TICKS.length - 1], display: false },
          y: { display: false },
        },
      } as any,
      plugins: [geneDecor],
    });
    return () => chart.destroy();
  }, []);
  return (
    <canvas
      ref={ref}
      width={PAGE_W}
      height={GENE_H}
      style={{ position: "absolute", left: 0, top: 0, width: PAGE_W, height: GENE_H }}
    />
  );
}

export default function App() {
  return (
    <div
      style={{
        position: "absolute",
        left: 0,
        top: 0,
        width: PAGE_W,
        height: PAGE_H,
        overflow: "hidden",
        background: "#fff",
      }}
    >
      <GeneModel />
      {PANELS.map((_, i) => (
        <Panel key={i} idx={i} />
      ))}
      <div
        style={{
          position: "absolute",
          left: 31,
          top: 872,
          transform: "translate(-50%, -50%) rotate(-90deg)",
          whiteSpace: "nowrap",
          font: `bold 24px ${FONT}`,
          color: "#000",
        }}
      >
        normalized reads (rpm)
      </div>
    </div>
  );
}
